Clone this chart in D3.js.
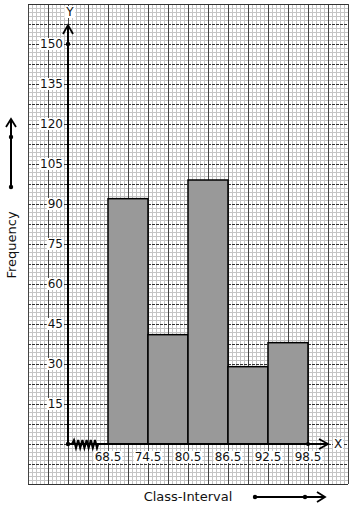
<!DOCTYPE html>
<html><head><meta charset="utf-8">
<script src="https://cdn.jsdelivr.net/npm/d3@7"></script>
<style>body{margin:0;background:#fff}svg{display:block}text{font-family:"DejaVu Sans",sans-serif;fill:#111}</style>
</head><body>
<svg id="c" width="353" height="510"></svg>
<script>
const boundaries = [68.5, 74.5, 80.5, 86.5, 92.5, 98.5];
const boundaryLabels = ["68.5", "74.5", "80.5", "86.5", "92.5", "98.5"];
const frequencies = [92, 41, 99, 29, 38];
const yTicks = [15, 30, 45, 60, 75, 90, 105, 120, 135, 150];
const xTitle = "Class-Interval";
const yTitle = "Frequency";

const svg = d3.select("#c");
const x = d3.scaleLinear().domain([56.5, 104.5]).range([28, 348]);
const y = d3.scaleLinear().domain([-15, 165]).range([484, 4]);
const x0 = x(62.5), y0 = y(0);

// graph paper
const g = svg.append("g");
const gx0 = 28, gx1 = 348, gy0 = 4, gy1 = 484;
for (let px = gx0; px <= gx1; px += 4) {
  if ((px - gx0) % 20 !== 0) g.append("line").attr("x1", px).attr("x2", px).attr("y1", gy0).attr("y2", gy1).attr("stroke", "#c4c4c4").attr("stroke-width", 1).attr("shape-rendering", "crispEdges");
}
for (let py = gy0; py <= gy1; py += 4) {
  if ((py - gy0) % 20 !== 0) g.append("line").attr("y1", py).attr("y2", py).attr("x1", gx0).attr("x2", gx1).attr("stroke", "#c4c4c4").attr("stroke-width", 1).attr("shape-rendering", "crispEdges");
}
for (let px = gx0; px <= gx1; px += 20) {
  g.append("line").attr("x1", px).attr("x2", px).attr("y1", gy0).attr("y2", gy1).attr("stroke", "#444").attr("stroke-width", 1).attr("shape-rendering", "crispEdges");
}
for (let py = gy0; py <= gy1; py += 20) {
  g.append("line").attr("y1", py).attr("y2", py).attr("x1", gx0).attr("x2", gx1).attr("stroke", "#333").attr("stroke-width", 1).attr("stroke-dasharray", (py === gy0 || py === gy1) ? null : "3,1").attr("shape-rendering", "crispEdges");
}

// bars
const bars = frequencies.map((f, i) => ({lo: boundaries[i], hi: boundaries[i + 1], f}));
svg.append("g").selectAll("rect").data(bars).join("rect")
  .attr("x", d => x(d.lo)).attr("width", d => x(d.hi) - x(d.lo))
  .attr("y", d => y(d.f)).attr("height", d => y0 - y(d.f))
  .attr("fill", "#999").attr("stroke", "#000").attr("stroke-width", 1.5);

// axes
const ax = svg.append("g");
ax.append("line").attr("x1", x0).attr("x2", x0).attr("y1", y0).attr("y2", 25).attr("stroke", "#000").attr("stroke-width", 2);
ax.append("path").attr("d", `M${x0 - 5},${34} L${x0},${25} L${x0 + 5},${34}`).attr("fill", "none").attr("stroke", "#000").attr("stroke-width", 1.8);
ax.append("line").attr("x1", x0).attr("x2", 328).attr("y1", y0).attr("y2", y0).attr("stroke", "#000").attr("stroke-width", 2);
ax.append("path").attr("d", `M${319},${y0 - 5} L${328},${y0} L${319},${y0 + 5}`).attr("fill", "none").attr("stroke", "#000").attr("stroke-width", 1.8);
ax.append("circle").attr("cx", x0).attr("cy", y0).attr("r", 2.2).attr("fill", "#000");
ax.append("circle").attr("cx", x0).attr("cy", y(150)).attr("r", 2.2).attr("fill", "#000");
ax.append("circle").attr("cx", x(98.5)).attr("cy", y0).attr("r", 2).attr("fill", "#000");

// axis break zigzag
let zz = `M${x0 + 4},${y0}`;
for (let i = 0; i < 6; i++) {
  const bx = x0 + 5 + i * 4.2;
  zz += ` L${bx + 1},${y0 - 4} L${bx + 3},${y0 + 4} L${bx + 4.2},${y0}`;
}
zz += ` L${x0 + 31},${y0}`;
ax.append("path").attr("d", zz).attr("fill", "none").attr("stroke", "#000").attr("stroke-width", 2);

// labels with white background
function label(txt, cx, cy, anchor, size) {
  const t = svg.append("text").attr("x", cx).attr("y", cy).attr("text-anchor", anchor)
    .attr("dominant-baseline", "central").attr("font-size", size).text(txt);
  const b = t.node().getBBox();
  svg.insert("rect", () => t.node()).attr("x", b.x - 1).attr("y", b.y + 1).attr("width", b.width + 2).attr("height", b.height - 2).attr("fill", "#fff");
}
yTicks.forEach(v => label(String(v), 63, y(v), "end", 12));
boundaries.forEach((b, i) => label(boundaryLabels[i], x(b), 457, "middle", 12));
label("Y", 70, 12, "middle", 12);
label("X", 338, y0, "middle", 12);

// titles
svg.append("text").attr("transform", "translate(11,245) rotate(-90)").attr("text-anchor", "middle")
  .attr("dominant-baseline", "central").attr("font-size", 13).text(yTitle);
svg.append("text").attr("x", 188).attr("y", 496).attr("text-anchor", "middle")
  .attr("dominant-baseline", "central").attr("font-size", 13).text(xTitle);

// decorative arrows
const dec = svg.append("g");
dec.append("line").attr("x1", 11).attr("x2", 11).attr("y1", 187).attr("y2", 119).attr("stroke", "#000").attr("stroke-width", 2);
dec.append("path").attr("d", "M6,127 L11,119 L16,127").attr("fill", "none").attr("stroke", "#000").attr("stroke-width", 1.8);
dec.append("circle").attr("cx", 11).attr("cy", 137).attr("r", 2.2).attr("fill", "#000");
dec.append("circle").attr("cx", 11).attr("cy", 187).attr("r", 2.2).attr("fill", "#000");
dec.append("line").attr("x1", 255).attr("x2", 325).attr("y1", 497).attr("y2", 497).attr("stroke", "#000").attr("stroke-width", 2);
dec.append("path").attr("d", "M317,492 L325,497 L317,502").attr("fill", "none").attr("stroke", "#000").attr("stroke-width", 1.8);
dec.append("circle").attr("cx", 255).attr("cy", 497).attr("r", 2.2).attr("fill", "#000");
dec.append("circle").attr("cx", 305).attr("cy", 497).attr("r", 2.2).attr("fill", "#000");
</script>
</body></html>
